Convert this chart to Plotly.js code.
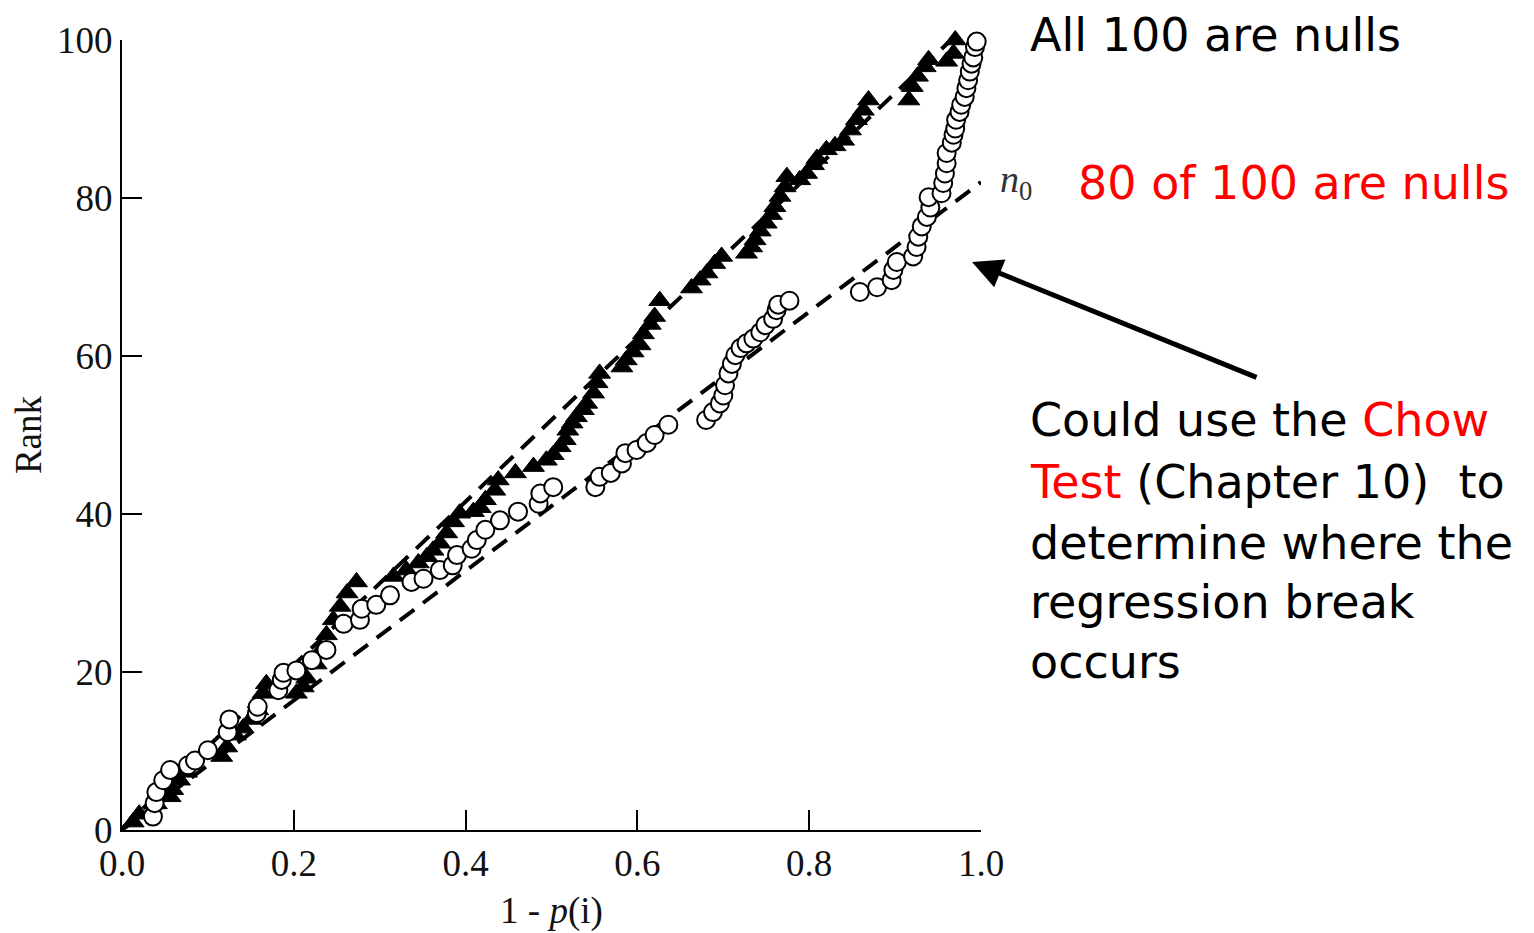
<!DOCTYPE html>
<html>
<head>
<meta charset="utf-8">
<script src="https://cdn.plot.ly/plotly-3.0.1.min.js"></script>
<style>html,body{margin:0;padding:0;background:#fff;}#chart{width:1534px;height:933px;}</style>
</head>
<body>
<div id="chart"></div>
<script>
// Filled triangles: "All 100 are nulls"
const triX = [0.013,0.020,0.040,0.056,0.059,0.067,0.075,0.116,0.122,0.132,0.141,0.150,0.158,0.164,0.168,0.203,0.211,0.215,0.226,0.232,0.238,0.246,0.254,0.262,0.273,0.316,0.331,0.345,0.355,0.362,0.370,0.378,0.386,0.393,0.409,0.417,0.423,0.434,0.438,0.458,0.479,0.494,0.502,0.510,0.516,0.519,0.524,0.529,0.537,0.541,0.549,0.553,0.556,0.582,0.587,0.595,0.603,0.607,0.615,0.620,0.626,0.663,0.673,0.681,0.690,0.698,0.727,0.733,0.737,0.743,0.750,0.756,0.760,0.766,0.772,0.774,0.789,0.797,0.805,0.809,0.820,0.830,0.840,0.848,0.855,0.863,0.869,0.916,0.920,0.926,0.935,0.939,0.960,0.968,0.970];
const triRank = [1.0,2.0,3.3,4.2,5.1,6.3,7.3,9.3,10.5,12.0,12.9,14.0,15.2,17.3,18.5,17.3,18.1,19.2,21.0,22.8,24.7,26.6,28.3,30.0,31.4,32.1,32.9,33.8,34.6,35.4,36.3,37.6,39.0,40.1,40.3,40.8,41.8,43.0,44.3,45.2,46.0,46.8,47.5,48.5,49.4,50.6,51.5,52.3,53.2,54.0,55.3,56.6,57.8,58.6,59.5,60.5,61.4,62.8,64.0,65.0,67.0,68.6,69.6,70.5,71.7,72.6,73.0,73.8,74.7,75.8,76.8,77.9,78.9,80.2,81.4,82.7,82.3,83.1,84.2,85.0,86.1,86.6,87.3,88.6,89.9,91.1,92.4,92.4,94.1,95.4,96.6,97.5,97.3,98.3,100.0];

// Open circles: "80 of 100 are nulls"
const cirX = [0.036,0.038,0.040,0.048,0.056,0.077,0.085,0.100,0.123,0.125,0.157,0.158,0.182,0.186,0.188,0.203,0.221,0.238,0.258,0.277,0.279,0.296,0.312,0.337,0.351,0.370,0.385,0.390,0.407,0.413,0.423,0.440,0.461,0.485,0.487,0.502,0.551,0.556,0.569,0.582,0.586,0.599,0.611,0.620,0.636,0.680,0.688,0.696,0.700,0.702,0.706,0.710,0.714,0.720,0.727,0.735,0.743,0.749,0.758,0.762,0.764,0.777,0.859,0.879,0.896,0.898,0.902,0.921,0.925,0.927,0.931,0.937,0.941,0.939,0.954,0.956,0.958,0.960,0.960,0.966,0.968,0.970,0.971,0.975,0.977,0.981,0.983,0.985,0.987,0.989,0.991,0.993,0.995];
const cirRank = [1.7,3.4,4.8,6.3,7.6,8.2,8.8,10.1,12.4,14.0,14.8,15.6,17.7,19.0,19.9,20.2,21.5,22.8,26.1,26.6,28.0,28.5,29.7,31.4,31.8,32.9,33.5,34.8,35.6,36.7,38.0,39.2,40.3,41.3,42.6,43.4,43.4,44.7,45.2,46.4,47.7,48.1,49.0,50.0,51.3,51.9,52.9,54.0,55.0,56.3,57.8,59.0,60.1,61.0,61.6,62.2,63.0,63.9,64.7,65.8,66.5,67.0,68.1,68.7,69.6,70.9,71.9,72.6,73.8,75.1,76.4,77.6,78.8,80.1,80.6,81.9,83.1,84.4,85.7,87.0,88.0,88.8,89.9,90.9,91.8,92.8,93.9,94.9,96.0,97.0,97.8,99.1,99.8];

// Reference lines (endpoints)
const allNullLineX = [0.0, 0.965];
const allNullLineY = [0.2, 100];
const n0LineX = [0.0, 1.0];
const n0LineY = [0.0, 82];

const xTicks = [0, 0.2, 0.4, 0.6, 0.8, 1.0];
const xTickText = ['0.0', '0.2', '0.4', '0.6', '0.8', '1.0'];
const yTicks = [0, 20, 40, 60, 80, 100];

const serif = 'Liberation Serif, Times New Roman, serif';
const comic = 'DejaVu Sans, sans-serif';

const traces = [
  {x: allNullLineX, y: allNullLineY, mode: 'lines', line: {color: '#000', width: 4, dash: '18px,11px'}, hoverinfo: 'skip', cliponaxis: false},
  {x: n0LineX, y: n0LineY, mode: 'lines', line: {color: '#000', width: 4, dash: '18px,11px'}, hoverinfo: 'skip', cliponaxis: false},
  {x: triX, y: triRank, mode: 'markers', marker: {symbol: 'triangle-up', size: 19, color: '#000', line: {color: '#000', width: 1}}, cliponaxis: false},
  {x: cirX, y: cirRank, mode: 'markers', marker: {symbol: 'circle', size: 18, color: '#fff', line: {color: '#000', width: 2}}, cliponaxis: false}
];

const lineAnn = (txt, xp, yp, color) => ({
  xref: 'paper', yref: 'paper', x: (xp - 122) / 859, y: (830 - yp) / 790,
  xanchor: 'left', yanchor: 'middle', showarrow: false, align: 'left',
  text: txt, font: {family: comic, size: 46, color: color || '#000'}
});

const layout = {
  width: 1534, height: 933,
  margin: {l: 122, r: 553, t: 40, b: 103, pad: 0},
  paper_bgcolor: '#fff', plot_bgcolor: '#fff',
  showlegend: false,
  xaxis: {
    range: [0, 1], showline: true, linecolor: '#000', linewidth: 2,
    ticks: 'inside', ticklen: 20, tickwidth: 2, tickcolor: '#000',
    tickvals: xTicks, ticktext: xTickText, showgrid: false, zeroline: false,
    tickfont: {family: serif, size: 37, color: '#111'},
    title: {text: '1 - <i>p</i>(i)', font: {family: serif, size: 37, color: '#111'}, standoff: 14}
  },
  yaxis: {
    range: [0, 100], showline: true, linecolor: '#000', linewidth: 2,
    ticks: 'inside', ticklen: 20, tickwidth: 2, tickcolor: '#000',
    tickvals: yTicks, showgrid: false, zeroline: false,
    tickfont: {family: serif, size: 37, color: '#111'},
    title: {text: 'Rank', font: {family: serif, size: 37, color: '#111'}, standoff: 4}
  },
  annotations: [
    lineAnn('All 100 are nulls', 1028, 35),
    lineAnn('80 of 100 are nulls', 1076, 183, '#ff0000'),
    {xref: 'paper', yref: 'paper', x: (998 - 122) / 859, y: (830 - 182) / 790, xanchor: 'left', yanchor: 'middle',
     showarrow: false, text: '<i>n</i><sub>0</sub>', font: {family: serif, size: 38, color: '#333'}},
    lineAnn('Could use the <span style="color:#ff0000">Chow</span>', 1028, 420),
    lineAnn('<span style="color:#ff0000">Test</span> (Chapter 10)  to', 1028, 482),
    lineAnn('determine where the', 1028, 543),
    lineAnn('regression break', 1028, 602),
    lineAnn('occurs', 1028, 662),
    {xref: 'paper', yref: 'paper', x: (972 - 122) / 859, y: (830 - 262) / 790, ax: 286, ay: 116,
     showarrow: true, arrowhead: 2, arrowsize: 1.2, arrowwidth: 5, arrowcolor: '#000', standoff: 0, text: ''}
  ]
};

Plotly.newPlot('chart', traces, layout, {staticPlot: true, displayModeBar: false});
</script>
</body>
</html>
